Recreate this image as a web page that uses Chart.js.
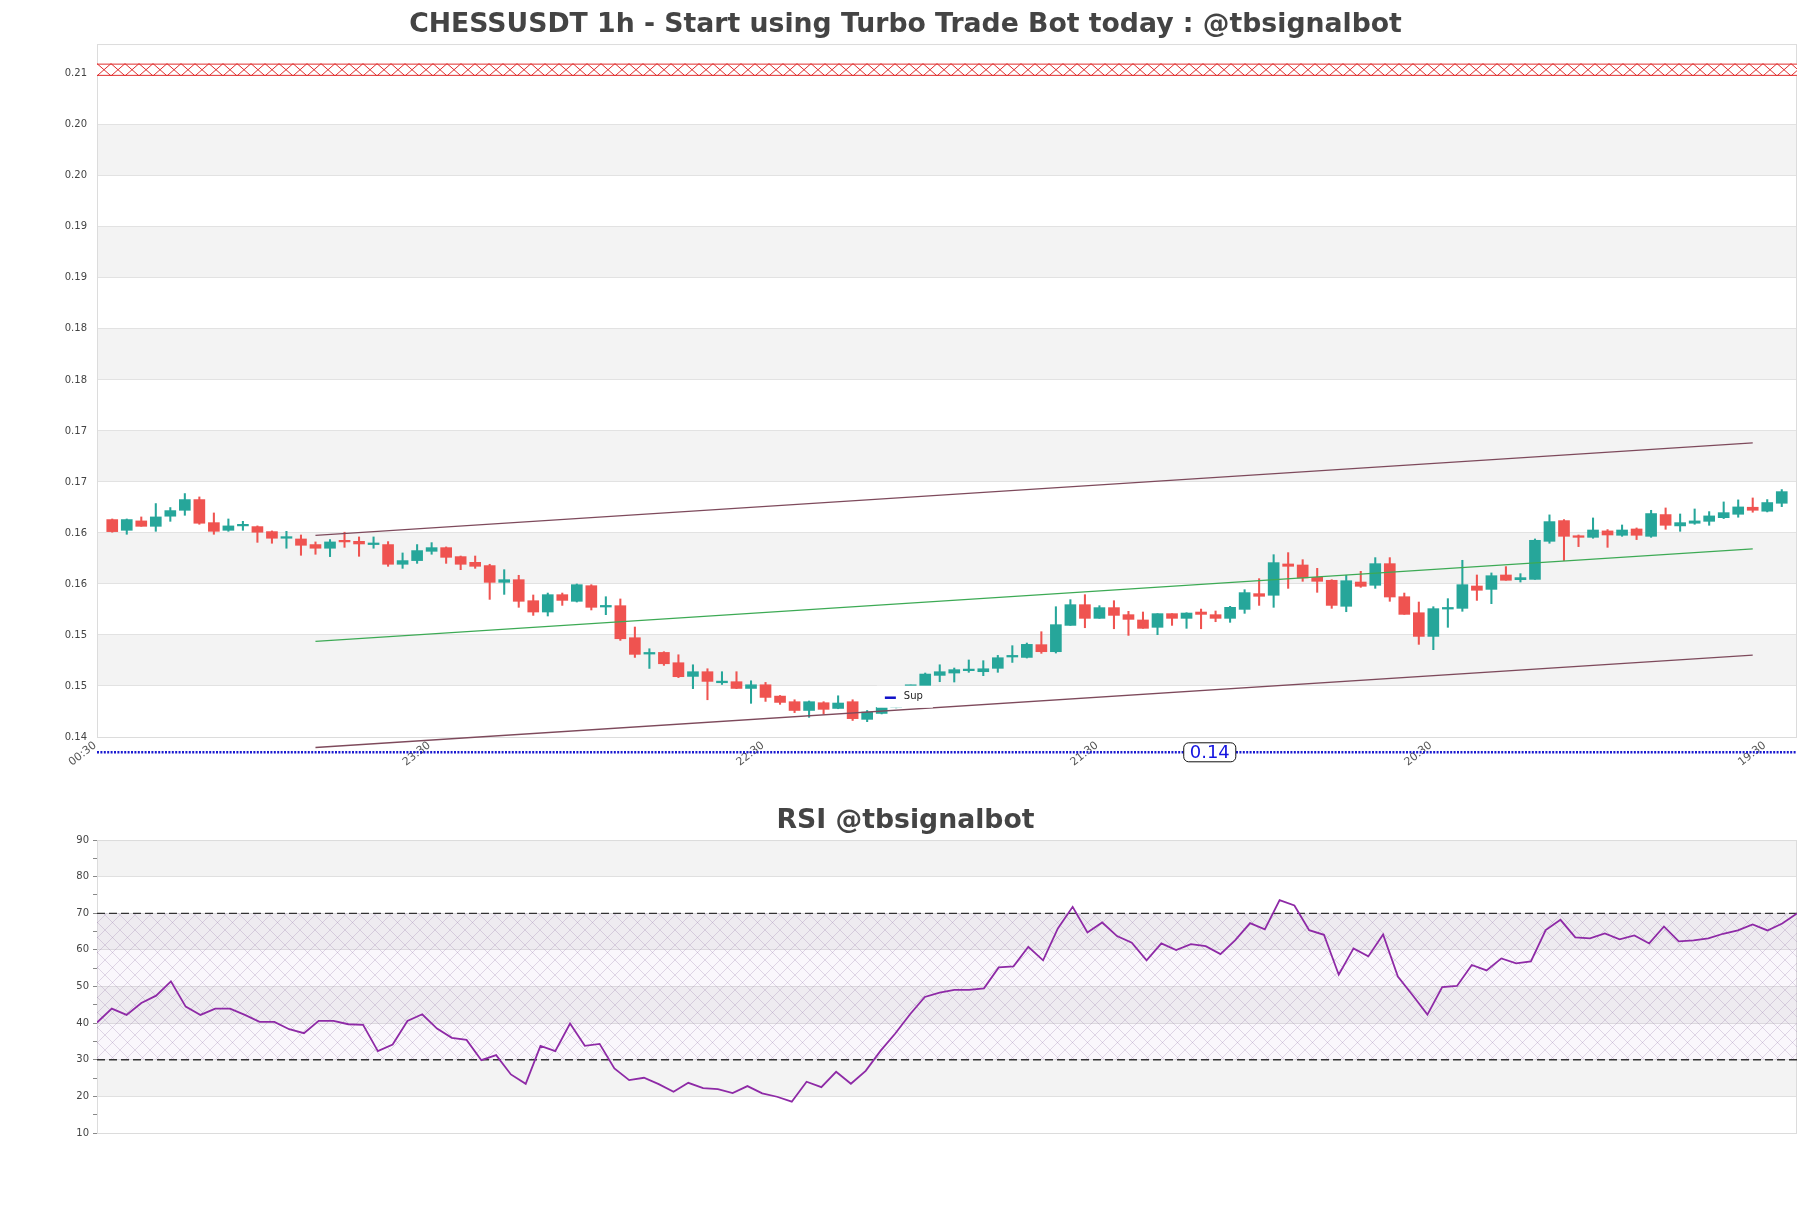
<!DOCTYPE html>
<html>
<head>
<meta charset="utf-8">
<script src="https://cdn.jsdelivr.net/npm/chart.js@4.4.1/dist/chart.umd.min.js"></script>
<style>
html,body{margin:0;padding:0;background:#fff;width:1811px;height:1208px;overflow:hidden;}
canvas{position:absolute;left:0;display:block;}
#c1{top:0;}
#c2{top:780px;}
</style>
</head>
<body>
<canvas id="c1" width="1811" height="780"></canvas>
<canvas id="c2" width="1811" height="428"></canvas>
<script>
// ---------------- DATA ----------------
const timeLabels = ['00:30','23:30','22:30','21:30','20:30','19:30'];
const timeTickIndex = [0,23,46,69,92,115];

const openP = [0.16631,0.16526,0.16618,0.16565,0.16664,0.16722,0.16827,0.16601,0.16526,0.16569,
0.16562,0.16513,0.16448,0.16441,0.16386,0.16350,0.16425,0.16418,0.16386,0.16386,
0.16193,0.16229,0.16320,0.16356,0.16268,0.16212,0.16180,0.16016,0.16042,0.15836,
0.15725,0.15895,0.15830,0.15983,0.15774,0.15787,0.15473,0.15313,0.15329,0.15228,
0.15094,0.15140,0.15032,0.15042,0.14976,0.15012,0.14901,0.14846,0.14760,0.14836,
0.14780,0.14846,0.14673,0.14731,0.14790,0.14996,0.15003,0.15104,0.15127,0.15150,
0.15140,0.15173,0.15284,0.15280,0.15405,0.15336,0.15594,0.15797,0.15663,0.15768,
0.15699,0.15647,0.15575,0.15709,0.15663,0.15725,0.15699,0.15663,0.15751,0.15905,
0.15889,0.16196,0.16186,0.16065,0.16036,0.15781,0.16019,0.15987,0.16199,0.15875,
0.15718,0.15486,0.15754,0.15761,0.15980,0.15947,0.16088,0.16042,0.16045,0.16418,
0.16621,0.16471,0.16457,0.16520,0.16477,0.16539,0.16467,0.16680,0.16569,0.16595,
0.16614,0.16650,0.16683,0.16752,0.16713,0.16791];
const highP = [0.16637,0.16637,0.16657,0.16788,0.16749,0.16886,0.16853,0.16696,0.16637,0.16614,
0.16569,0.16520,0.16516,0.16480,0.16412,0.16435,0.16507,0.16461,0.16461,0.16415,
0.16304,0.16386,0.16405,0.16363,0.16274,0.16274,0.16193,0.16140,0.16085,0.15892,
0.15911,0.15911,0.16000,0.15993,0.15875,0.15853,0.15578,0.15365,0.15336,0.15306,
0.15208,0.15169,0.15140,0.15140,0.15051,0.15035,0.14907,0.14865,0.14853,0.14846,
0.14904,0.14865,0.14760,0.14833,0.14975,0.15009,0.15127,0.15208,0.15176,0.15255,
0.15248,0.15300,0.15395,0.15421,0.15532,0.15777,0.15846,0.15895,0.15787,0.15836,
0.15732,0.15725,0.15709,0.15709,0.15718,0.15754,0.15735,0.15781,0.15944,0.16052,
0.16287,0.16307,0.16238,0.16153,0.16042,0.16085,0.16124,0.16258,0.16258,0.15911,
0.15823,0.15777,0.15856,0.16232,0.16088,0.16108,0.16170,0.16101,0.16441,0.16677,
0.16631,0.16480,0.16647,0.16533,0.16578,0.16549,0.16722,0.16745,0.16686,0.16735,
0.16709,0.16804,0.16824,0.16843,0.16827,0.16925];
const lowP = [0.16507,0.16487,0.16565,0.16516,0.16614,0.16673,0.16585,0.16487,0.16516,0.16526,
0.16408,0.16399,0.16350,0.16281,0.16291,0.16268,0.16359,0.16271,0.16350,0.16173,
0.16153,0.16202,0.16291,0.16202,0.16140,0.16153,0.15849,0.15898,0.15771,0.15692,
0.15686,0.15790,0.15823,0.15745,0.15699,0.15447,0.15280,0.15172,0.15202,0.15082,
0.14974,0.14865,0.15015,0.14974,0.14830,0.14849,0.14820,0.14739,0.14693,0.14726,
0.14777,0.14662,0.14650,0.14726,0.14785,0.14996,0.14996,0.15042,0.15039,0.15134,
0.15101,0.15134,0.15231,0.15274,0.15320,0.15323,0.15594,0.15571,0.15663,0.15561,
0.15496,0.15565,0.15503,0.15594,0.15565,0.15561,0.15630,0.15624,0.15712,0.15790,
0.15771,0.15957,0.16026,0.15918,0.15761,0.15728,0.15967,0.15957,0.15830,0.15702,
0.15408,0.15356,0.15575,0.15732,0.15839,0.15807,0.16036,0.16019,0.16045,0.16399,
0.16229,0.16366,0.16448,0.16359,0.16467,0.16435,0.16457,0.16536,0.16516,0.16585,
0.16575,0.16641,0.16654,0.16703,0.16706,0.16758];
const closeP = [0.16513,0.16631,0.16565,0.16657,0.16719,0.16827,0.16595,0.16516,0.16569,0.16575,
0.16507,0.16448,0.16454,0.16379,0.16350,0.16412,0.16412,0.16392,0.16392,0.16193,
0.16229,0.16327,0.16356,0.16261,0.16193,0.16173,0.16016,0.16042,0.15830,0.15725,
0.15895,0.15839,0.15993,0.15771,0.15784,0.15463,0.15310,0.15323,0.15218,0.15091,
0.15140,0.15045,0.15042,0.14976,0.15012,0.14888,0.14839,0.14760,0.14846,0.14771,
0.14833,0.14680,0.14744,0.14790,0.14965,0.15009,0.15117,0.15140,0.15160,0.15157,
0.15169,0.15277,0.15290,0.15408,0.15336,0.15601,0.15797,0.15663,0.15768,0.15692,
0.15653,0.15565,0.15709,0.15663,0.15715,0.15702,0.15663,0.15771,0.15915,0.15879,
0.16209,0.16173,0.16059,0.16026,0.15790,0.16032,0.15977,0.16199,0.15872,0.15702,
0.15486,0.15758,0.15764,0.15993,0.15938,0.16081,0.16036,0.16062,0.16428,0.16611,
0.16467,0.16457,0.16529,0.16480,0.16529,0.16477,0.16690,0.16575,0.16601,0.16618,
0.16667,0.16699,0.16755,0.16722,0.16798,0.16905];

const rsiValues = [40.15,43.97,42.24,45.51,47.51,51.42,44.51,42.24,43.97,43.97,
42.24,40.34,40.34,38.34,37.25,40.61,40.61,39.70,39.52,32.34,
34.16,40.61,42.43,38.52,35.98,35.43,29.89,31.25,25.99,23.44,
33.80,32.34,39.88,33.80,34.34,27.62,24.44,25.08,23.35,21.26,
23.71,22.26,21.99,20.90,22.81,20.81,19.90,18.54,23.99,22.53,
26.71,23.44,26.98,32.43,37.16,42.43,47.15,48.33,49.06,49.06,
49.51,55.23,55.50,60.86,57.14,65.86,71.76,64.77,67.49,63.77,
61.95,57.14,61.77,59.95,61.59,61.04,58.86,62.68,67.31,65.59,
73.58,72.13,65.40,64.13,53.23,60.41,58.23,64.22,52.69,47.60,
42.33,49.87,50.15,55.87,54.41,57.68,56.32,56.87,65.40,68.22,
63.41,63.13,64.50,62.86,63.95,61.77,66.40,62.32,62.59,63.13,
64.41,65.31,66.95,65.31,67.22,69.95];

const priceTickValues = [0.145,0.150,0.155,0.160,0.165,0.170,0.175,0.180,0.185,0.190,0.195,0.200,0.205,0.210];
const priceTickLabels = ['0.14','0.15','0.15','0.16','0.16','0.17','0.17','0.18','0.18','0.19','0.19','0.20','0.20','0.21'];

const channelIndex = [14, 113];
const channelUpper = [0.16477, 0.17383];
const channelMiddle = [0.15437, 0.16343];
const channelLower = [0.14397, 0.15303];

const resistanceZone = [0.2098, 0.2110];
const supportLevel = 0.1435;
const supportLabel = '0.14';
const supportLabelIndex = 75.6;
const supLegendAt = [53.22, 0.14885];

const priceBands = [[0.150,0.155],[0.160,0.165],[0.170,0.175],[0.180,0.185],[0.190,0.195],[0.200,0.205]];
const rsiBands = [[20,30],[40,50],[60,70],[80,90]];
const rsiLevels = [30, 70];

// ---------------- STYLE ----------------
const GREEN = '#26a69a', RED = '#ef5350';
const FONT = 'DejaVu Sans';
Chart.defaults.font.family = FONT;
Chart.defaults.color = '#444';
const xMin = -1.05, xMax = 116.05;
const yMin = 0.145, yMax = 0.21292;

const bandsPlugin = {
  id: 'bands',
  beforeDraw(chart, args, opts) {
    const {ctx, chartArea: a, scales: {y}} = chart;
    ctx.save();
    ctx.fillStyle = opts.color;
    opts.ranges.forEach(([lo, hi]) => {
      const t = y.getPixelForValue(hi), b = y.getPixelForValue(lo);
      ctx.fillRect(a.left, t, a.right - a.left, b - t);
    });
    ctx.restore();
  },
  beforeDatasetsDraw(chart) {
    const {ctx, chartArea: a} = chart;
    ctx.save();
    ctx.strokeStyle = '#dcdcdc';
    ctx.lineWidth = 1;
    ctx.strokeRect(a.left + 0.5, a.top + 0.5, a.right - a.left - 1, a.bottom - a.top);
    ctx.restore();
  }
};

const resistancePlugin = {
  id: 'resistance',
  beforeDatasetsDraw(chart) {
    const {ctx, chartArea: a, scales: {y}} = chart;
    const yT = y.getPixelForValue(resistanceZone[1]);
    const yB = y.getPixelForValue(resistanceZone[0]);
    const w = 14;
    ctx.save();
    ctx.beginPath(); ctx.rect(a.left, yT - 1, a.right - a.left, yB - yT + 2); ctx.clip();
    ctx.fillStyle = '#fff';
    ctx.fillRect(a.left, yT, a.right - a.left, yB - yT);
    ctx.strokeStyle = '#e02e2e';
    ctx.lineWidth = 1;
    ctx.beginPath();
    for (let x = a.left; x < a.right; x += w) {
      ctx.moveTo(x, yT); ctx.lineTo(x + w, yB);
      ctx.moveTo(x, yB); ctx.lineTo(x + w, yT);
    }
    ctx.moveTo(a.left, yT + 0.5); ctx.lineTo(a.right, yT + 0.5);
    ctx.moveTo(a.left, yB - 0.5); ctx.lineTo(a.right, yB - 0.5);
    ctx.stroke();
    ctx.restore();
  }
};

const annotPlugin = {
  id: 'annot',
  afterDatasetsDraw(chart) {
    const {ctx, scales: {x, y}} = chart;
    // legend "Sup"
    const lx = x.getPixelForValue(supLegendAt[0]);
    const ly = y.getPixelForValue(supLegendAt[1]);
    ctx.save();
    ctx.fillStyle = '#fff';
    ctx.fillRect(lx - 8, ly - 12, 56, 22);
    ctx.strokeStyle = '#1010c8';
    ctx.lineWidth = 2.5;
    ctx.beginPath(); ctx.moveTo(lx, ly); ctx.lineTo(lx + 11, ly); ctx.stroke();
    ctx.fillStyle = '#222';
    ctx.font = '10px ' + FONT;
    ctx.textBaseline = 'middle';
    ctx.fillText('Sup', lx + 19, ly - 1);
    // support price label
    const sx = x.getPixelForValue(supportLabelIndex);
    const sy = y.getPixelForValue(supportLevel);
    ctx.font = '18px ' + FONT;
    const tw = ctx.measureText(supportLabel).width;
    const bw = tw + 12, bh = 19;
    ctx.beginPath();
    ctx.roundRect(sx - bw / 2, sy - bh / 2, bw, bh, 5);
    ctx.fillStyle = '#fff';
    ctx.fill();
    ctx.lineWidth = 1;
    ctx.strokeStyle = '#111';
    ctx.stroke();
    ctx.fillStyle = '#1414e0';
    ctx.textAlign = 'center';
    ctx.fillText(supportLabel, sx, sy + 1);
    ctx.restore();
  }
};

// ---------------- MAIN CHART ----------------
const colorFor = (i) => closeP[i] >= openP[i] ? GREEN : RED;
const bodyData = openP.map((o, i) => ({x: i, y: [o, closeP[i]]}));
const wickData = lowP.map((l, i) => ({x: i, y: [l, highP[i]]}));

new Chart(document.getElementById('c1'), {
  type: 'bar',
  data: {
    datasets: [
      {type: 'line', data: [{x: xMin, y: supportLevel}, {x: xMax, y: supportLevel}],
       borderColor: '#1a1ad0', borderWidth: 2.6, borderDash: [2, 1.4], pointRadius: 0, clip: false, order: 0},
      {type: 'line', data: channelIndex.map((v, k) => ({x: v, y: channelUpper[k]})),
       borderColor: '#7e4a5c', borderWidth: 1.3, pointRadius: 0, clip: false, order: 0},
      {type: 'line', data: channelIndex.map((v, k) => ({x: v, y: channelMiddle[k]})),
       borderColor: '#3daa55', borderWidth: 1.2, pointRadius: 0, clip: false, order: 0},
      {type: 'line', data: channelIndex.map((v, k) => ({x: v, y: channelLower[k]})),
       borderColor: '#7e4a5c', borderWidth: 1.3, pointRadius: 0, clip: false, order: 0},
      {data: bodyData, backgroundColor: (c) => colorFor(c.dataIndex), barThickness: 11,
       minBarLength: 1.6, grouped: false, borderWidth: 0, order: 1},
      {data: wickData, backgroundColor: (c) => colorFor(c.dataIndex), barThickness: 1.4,
       grouped: false, borderWidth: 0, order: 2}
    ]
  },
  options: {
    responsive: false, animation: false, devicePixelRatio: 1,
    layout: {padding: {left: 14, right: 14, top: 0, bottom: 0}},
    plugins: {
      legend: {display: false}, tooltip: {enabled: false},
      title: {display: true, text: 'CHESSUSDT 1h - Start using Turbo Trade Bot today : @tbsignalbot',
        font: {size: 26.7, weight: 'bold', family: FONT}, color: '#444', padding: {top: 9, bottom: 3}},
      bands: {ranges: priceBands, color: '#f3f3f3'}
    },
    scales: {
      x: {type: 'linear', min: xMin, max: xMax, offset: false,
        grid: {display: false, drawTicks: false}, border: {display: false},
        afterBuildTicks: (s) => { s.ticks = timeTickIndex.map(v => ({value: v})); },
        afterFit: (s) => { s.height = 43; },
        ticks: {autoSkip: false, minRotation: 38, maxRotation: 38, padding: 2, labelOffset: -17,
          font: {size: 11}, color: '#555',
          callback: (v) => timeLabels[timeTickIndex.indexOf(v)]}},
      y: {type: 'linear', min: yMin, max: yMax,
        grid: {color: '#e2e2e2', drawTicks: false}, border: {display: false},
        afterBuildTicks: (s) => { s.ticks = priceTickValues.map(v => ({value: v})); },
        afterFit: (s) => { s.width = 83; },
        ticks: {padding: 10, font: {size: 10}, color: '#444',
          callback: (v, i) => priceTickLabels[i]}}
    }
  },
  plugins: [bandsPlugin, resistancePlugin, annotPlugin]
});

// ---------------- RSI CHART ----------------
function makeHatch() {
  const s = 15;
  const c = document.createElement('canvas');
  c.width = s; c.height = s;
  const g = c.getContext('2d');
  g.fillStyle = 'rgba(170,120,200,0.06)';
  g.fillRect(0, 0, s, s);
  g.strokeStyle = 'rgba(140,110,165,0.32)';
  g.lineWidth = 0.8;
  g.beginPath();
  g.moveTo(0, 0); g.lineTo(s, s);
  g.moveTo(0, s); g.lineTo(s, 0);
  g.stroke();
  return g.createPattern(c, 'repeat');
}
const rsiX = rsiValues.map((v, i) => ({x: i, y: v}));
const lastIdx = rsiValues.length - 1;

new Chart(document.getElementById('c2'), {
  type: 'line',
  data: {
    datasets: [
      {data: rsiX, borderColor: '#8e2aa6', borderWidth: 1.8, pointRadius: 0, tension: 0, fill: false, order: 0},
      {data: [{x: 0, y: rsiLevels[1]}, {x: lastIdx, y: rsiLevels[1]}], borderColor: '#333', borderWidth: 1.3,
       borderDash: [8, 4], pointRadius: 0, fill: {value: rsiLevels[0]}, backgroundColor: makeHatch(), order: 2},
      {data: [{x: 0, y: rsiLevels[0]}, {x: lastIdx, y: rsiLevels[0]}], borderColor: '#333', borderWidth: 1.3,
       borderDash: [8, 4], pointRadius: 0, fill: false, order: 1}
    ]
  },
  options: {
    responsive: false, animation: false, devicePixelRatio: 1,
    layout: {padding: {left: 14, right: 14, top: 0, bottom: 75}},
    plugins: {
      legend: {display: false}, tooltip: {enabled: false},
      title: {display: true, text: 'RSI @tbsignalbot',
        font: {size: 26.7, weight: 'bold', family: FONT}, color: '#444', padding: {top: 25, bottom: 3}},
      filler: {propagate: false},
      bands: {ranges: rsiBands, color: '#f3f3f3'}
    },
    scales: {
      x: {type: 'linear', min: 0, max: lastIdx, display: false},
      y: {type: 'linear', min: 10, max: 90,
        border: {display: false},
        grid: {color: (c) => (c.tick && c.tick.value % 10 === 0) ? '#e0e0e0' : 'rgba(0,0,0,0)',
               tickColor: '#888', tickLength: 4},
        afterFit: (s) => { s.width = 83; },
        ticks: {stepSize: 5, padding: 4, font: {size: 10}, color: '#444', autoSkip: false,
          callback: (v) => (v % 10 === 0 ? String(v) : '')}}
    }
  },
  plugins: [bandsPlugin]
});
</script>
</body>
</html>
